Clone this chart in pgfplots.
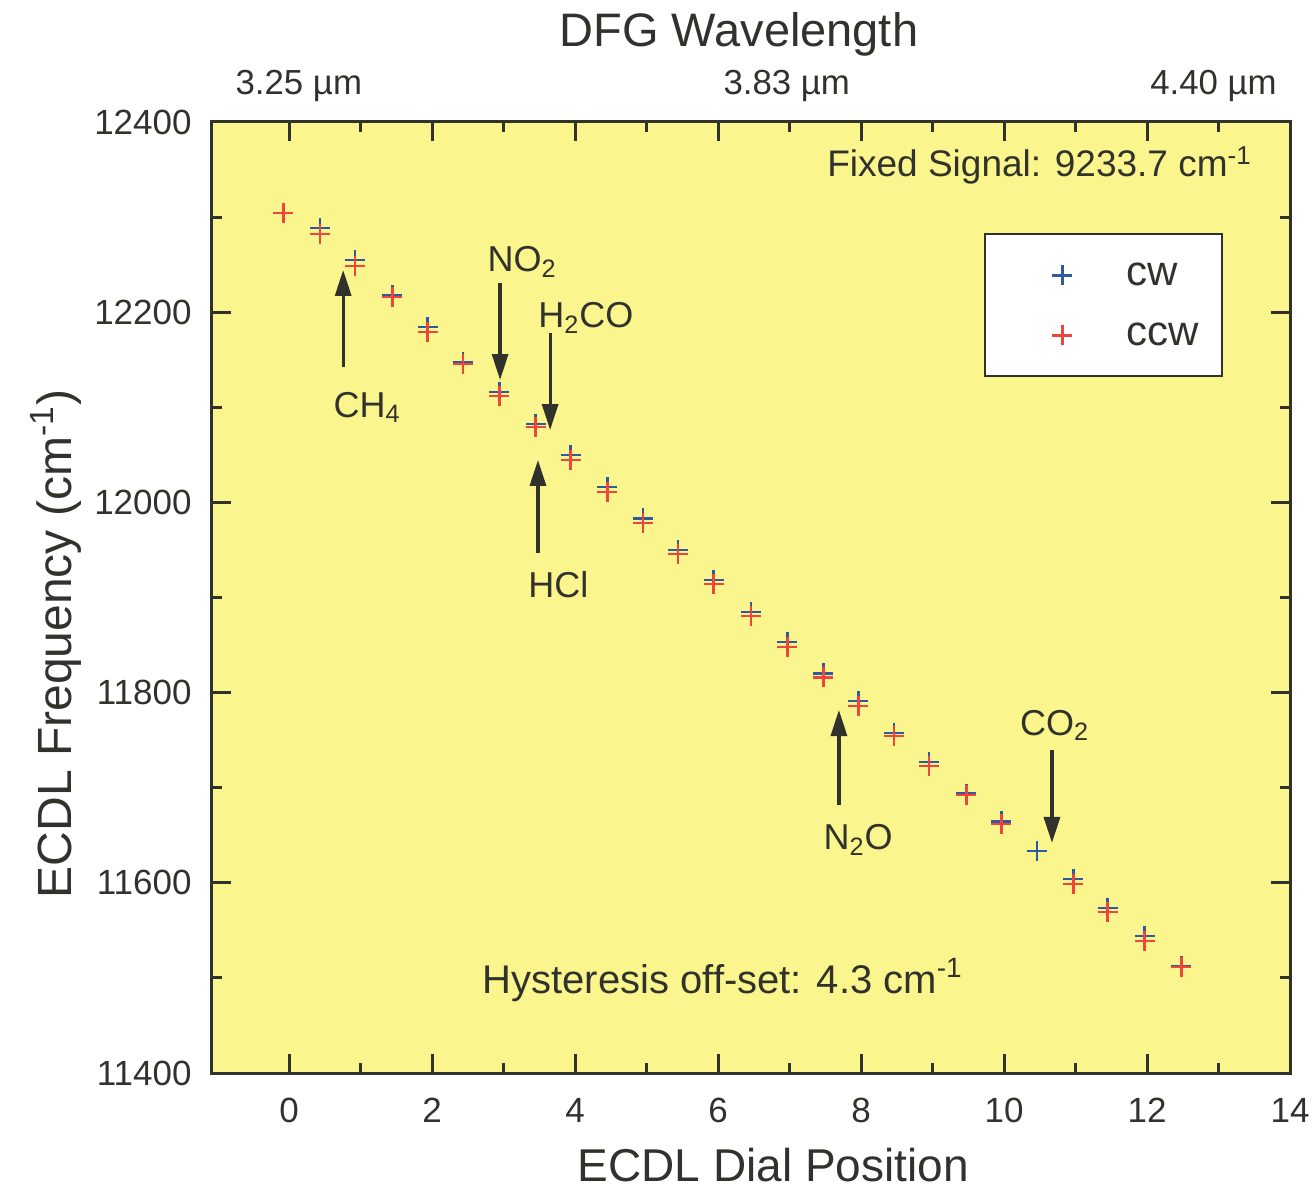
\documentclass[border=0pt]{standalone}
\usepackage{fontspec}
\setmainfont{Liberation Sans}
\usepackage{pgfplots}
\pgfplotsset{compat=1.18}
\usetikzlibrary{arrows.meta}
\definecolor{bg}{RGB}{250,245,140}
\definecolor{ink}{RGB}{50,50,45}
\definecolor{cwblue}{RGB}{45,90,160}
\definecolor{ccwred}{RGB}{238,70,60}
\begin{document}
\begin{tikzpicture}
\useasboundingbox (-106pt,-58.5pt) rectangle (550pt,536.5pt);
\begin{axis}[
  at={(0,0)}, anchor=south west,
  width=539pt, height=475.5pt, scale only axis,
  xmin=-1.08, xmax=14, ymin=11400, ymax=12400,
  clip=false,
  scaled y ticks=false,
  axis background/.style={fill=bg},
  axis line style={ink, line width=1.5pt},
  tick style={ink, line width=1.5pt},
  tick align=inside,
  major tick length=9.5pt, minor tick length=5pt,
  xtick={0,2,...,14}, minor x tick num=1,
  ytick={11400,11600,...,12400}, minor y tick num=1,
  /pgf/number format/assume math mode=true,
  /pgf/number format/1000 sep={},
  tick label style={font=\fontsize{17.5}{20}\selectfont, text=ink},
  xticklabel style={inner sep=0pt, yshift=-12.5pt},
  yticklabel style={inner sep=0pt, xshift=-10pt},
  legend style={at={(rel axis cs:0.938,0.883)}, anchor=north east,
    draw=ink, line width=1pt, fill=white, inner xsep=0pt, inner ysep=6.5pt,
    row sep=2pt, font=\fontsize{21}{24}\selectfont, text=ink,
    /tikz/every odd column/.append style={column sep=5pt}},
  legend cell align=left,
  legend image code/.code={\path[draw=none,fill=none] (-38.5pt,-14pt) rectangle (25pt,14pt); \draw[#1] plot coordinates {(0pt,0pt)};},
]
\addplot[only marks, mark=+, mark size=5pt, color=cwblue, mark options={line width=1.4pt}] coordinates {
(0.43,12288.5) (0.92,12254.9) (1.44,12218.1) (1.94,12184.4) (2.43,12147.6)
(2.94,12116.1) (3.45,12082.4) (3.94,12049.8) (4.45,12016.2) (4.95,11983.1)
(5.44,11949.9) (5.94,11918.4) (6.46,11884.8) (6.97,11853.2) (7.47,11820.1)
(7.96,11791.2) (8.46,11757.5) (8.95,11727.0) (9.47,11693.9) (9.96,11664.5)
(10.46,11633.4) (10.97,11604.0) (11.45,11573.5) (11.97,11544.1) (12.48,11512.6)
};
\addlegendentry{\makebox[46pt][l]{cw}}
\addplot[only marks, mark=+, mark size=5pt, color=ccwred, mark options={line width=1.4pt}] coordinates {
(-0.08,12304.3) (0.43,12282.2) (0.92,12248.6) (1.44,12216.0) (1.94,12179.2)
(2.43,12145.5) (2.94,12111.9) (3.45,12079.3) (3.94,12044.6) (4.45,12010.9)
(4.95,11978.3) (5.44,11945.7) (5.94,11914.2) (6.46,11880.5) (6.97,11848.0)
(7.47,11815.9) (7.96,11785.9) (8.46,11754.4) (8.95,11722.8) (9.47,11692.3)
(9.96,11661.8) (10.97,11598.7) (11.45,11569.3) (11.97,11538.8) (12.48,11511.5)
};
\addlegendentry{\makebox[46pt][l]{ccw}}

% arrows
\tikzset{arr/.style={ink, line width=1.6pt, -{Triangle[length=13pt,width=8pt]}}}
\draw[arr] (axis cs:0.755,12142.4) -- (axis cs:0.755,12244.4);
\draw[arr] (axis cs:2.95,12230.7) -- (axis cs:2.95,12128.7);
\draw[arr] (axis cs:3.65,12178.1) -- (axis cs:3.65,12076.1);
\draw[arr] (axis cs:3.48,11946.8) -- (axis cs:3.48,12044.6);
\draw[arr] (axis cs:7.69,11681.8) -- (axis cs:7.69,11781.7);
\draw[arr] (axis cs:10.67,11739.6) -- (axis cs:10.67,11641.9);

\tikzset{lab/.style={text=ink, font=\fontsize{18}{21}\selectfont, inner sep=0pt, anchor=base west}}
\node[lab] at (axis cs:0.615,12089.8) {CH\textsubscript{4}};
\node[lab] at (axis cs:2.77,12242.3) {NO\textsubscript{2}};
\node[lab] at (axis cs:3.48,12183.4) {H\textsubscript{2}CO};
\node[lab] at (axis cs:3.34,11900.5) {HCl};
\node[lab] at (axis cs:7.47,11634.5) {N\textsubscript{2}O};
\node[lab] at (axis cs:10.22,11755.4) {CO\textsubscript{2}};

\node[text=ink, font=\fontsize{18.5}{21}\selectfont, inner sep=0pt, anchor=base east] at (axis cs:13.47,12342.2) {Fixed Signal: 9233.7 cm\textsuperscript{-1}};
\node[text=ink, font=\fontsize{20}{23}\selectfont, inner sep=0pt, anchor=base west] at (axis cs:2.70,11484.1) {Hysteresis off-set: 4.3 cm\textsuperscript{-1}};

% top wavelength labels and titles
\tikzset{top/.style={text=ink, font=\fontsize{17.4}{20}\selectfont, inner sep=0pt, anchor=base west}}
\node[top] at ([yshift=13.5pt]axis cs:-0.755,12400) {3.25 µm};
\node[top] at ([yshift=13.5pt]axis cs:6.07,12400) {3.83 µm};
\node[top] at ([yshift=13.5pt]axis cs:12.04,12400) {4.40 µm};
\node[text=ink, font=\fontsize{23.5}{27}\selectfont, inner sep=0pt, anchor=base] at ([yshift=37.5pt]axis cs:6.29,12400) {DFG Wavelength};
\node[text=ink, font=\fontsize{23}{27}\selectfont, inner sep=0pt, anchor=base] at ([yshift=-54pt]axis cs:6.77,11400) {ECDL Dial Position};
\node[text=ink, font=\fontsize{24}{28}\selectfont, inner sep=0pt, anchor=base, rotate=90] at ([xshift=-70pt]rel axis cs:0,0.451) {ECDL Frequency (cm\textsuperscript{-1})};
\end{axis}
\end{tikzpicture}
\end{document}
